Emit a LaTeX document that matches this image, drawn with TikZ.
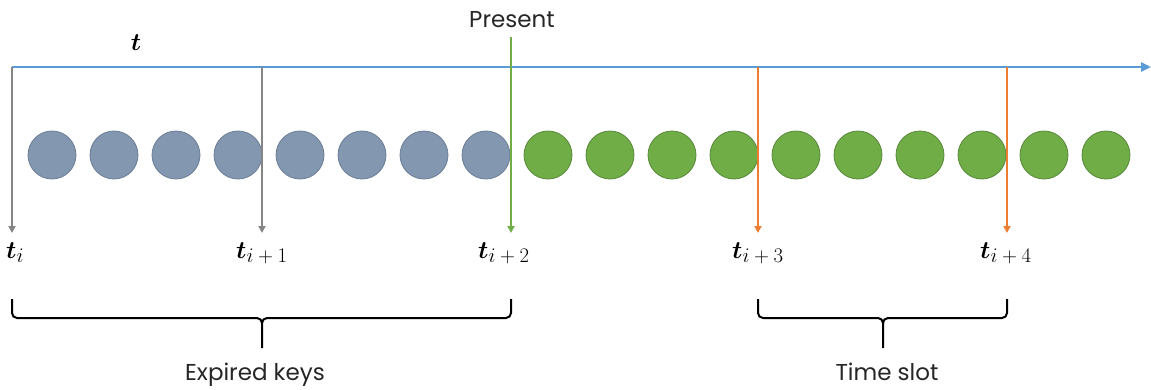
\documentclass[tikz,border=0pt]{standalone}
\usepackage{fontspec}
\setmainfont{Poppins}
\usetikzlibrary{arrows.meta,calc}
\definecolor{axisblue}{HTML}{5B9BD5}
\definecolor{pastgray}{HTML}{8497B0}
\definecolor{pastedge}{HTML}{6B7D96}
\definecolor{keygreen}{HTML}{70AD47}
\definecolor{keyedge}{HTML}{58893A}
\definecolor{slotorange}{HTML}{ED7D31}
\definecolor{markgray}{HTML}{858585}
% subscript of a boundary label, set in the regular weight
\newcommand{\slotidx}[1]{_{\mbox{\unboldmath\fontsize{20}{20}\selectfont$#1$}}}
\tikzset{
  key/.style={circle, minimum size=48pt, inner sep=0pt, line width=0.8pt},
  expired/.style={key, fill=pastgray, draw=pastedge},
  live/.style={key, fill=keygreen, draw=keyedge},
  marker/.style={line width=2.4pt, -{Triangle[length=7pt,width=7pt]}},
  mathlabel/.style={inner sep=0pt, font=\fontsize{28}{30}\selectfont\boldmath},
  tlabel/.style={mathlabel, anchor=base west},
  caption/.style={anchor=base, inner sep=0pt, font=\fontsize{23}{26}\selectfont, text=black!85},
  bracket/.style={line width=2pt, line join=round}
}
\begin{document}
\begin{tikzpicture}[x=1pt, y=-1pt]
\useasboundingbox (0,0) rectangle (1151,389);

% time axis
\coordinate (ax0) at (12,67);
\coordinate (ax1) at (1151,67);
\draw[axisblue, line width=2.8pt, -{Triangle[length=10pt,width=9pt]}] (ax0) -- (ax1);
\node[mathlabel, anchor=base] (tvar) at (136,50) {$t$};

% keys: eight expired, ten still valid
\foreach \k in {0,...,7}
  \node[expired] (c\k) at ({52+62*\k},155) {};
\foreach \k in {8,...,17}
  \node[live] (c\k) at ({52+62*\k},155) {};

% slot boundary markers
\coordinate (m0top) at (12,67);    \coordinate (m0end) at (12,233);
\coordinate (m1top) at (262,67);   \coordinate (m1end) at (262,233);
\coordinate (m2top) at (511,37);   \coordinate (m2end) at (511,233);
\coordinate (m3top) at (758,67);   \coordinate (m3end) at (758,233);
\coordinate (m4top) at (1007,67);  \coordinate (m4end) at (1007,233);
\draw[marker, markgray] (m0top) -- (m0end);
\draw[marker, markgray] (m1top) -- (m1end);
\draw[marker, keygreen] (m2top) -- (m2end);
\draw[marker, slotorange] (m3top) -- (m3end);
\draw[marker, slotorange] (m4top) -- (m4end);

\node[caption] (present) at (512,27) {Present};

% boundary labels
\node[tlabel] (l0) at (6,258) {$t\slotidx{i}$};
\node[tlabel] (l1) at (236,258) {$t\slotidx{i+1}$};
\node[tlabel] (l2) at (478,258) {$t\slotidx{i+2}$};
\node[tlabel] (l3) at (732,258) {$t\slotidx{i+3}$};
\node[tlabel] (l4) at (980,258) {$t\slotidx{i+4}$};

% braces under the key ranges
\coordinate (b0l) at (12,299);   \coordinate (b0r) at (511,299);
\coordinate (b0m) at (262,348);
\coordinate (b1l) at (758,299);  \coordinate (b1r) at (1007,299);
\coordinate (b1m) at (883,348);
\foreach \l/\r/\m in {b0l/b0r/b0m, b1l/b1r/b1m}{
  \draw[bracket] (\l) -- ++(0,14) to[out=-90,in=180] ++(5,5)
     -- ($(\m|-\l)+(-5,19)$) to[out=0,in=90] ($(\m|-\l)+(0,24)$) -- (\m);
  \draw[bracket] (\r) -- ++(0,14) to[out=-90,in=0] ++(-5,5)
     -- ($(\m|-\l)+(5,19)$) to[out=180,in=90] ($(\m|-\l)+(0,24)$);
}
\node[caption] (expired) at (255,380) {Expired keys};
\node[caption] (slot) at (887,380) {Time slot};
\end{tikzpicture}
\end{document}
